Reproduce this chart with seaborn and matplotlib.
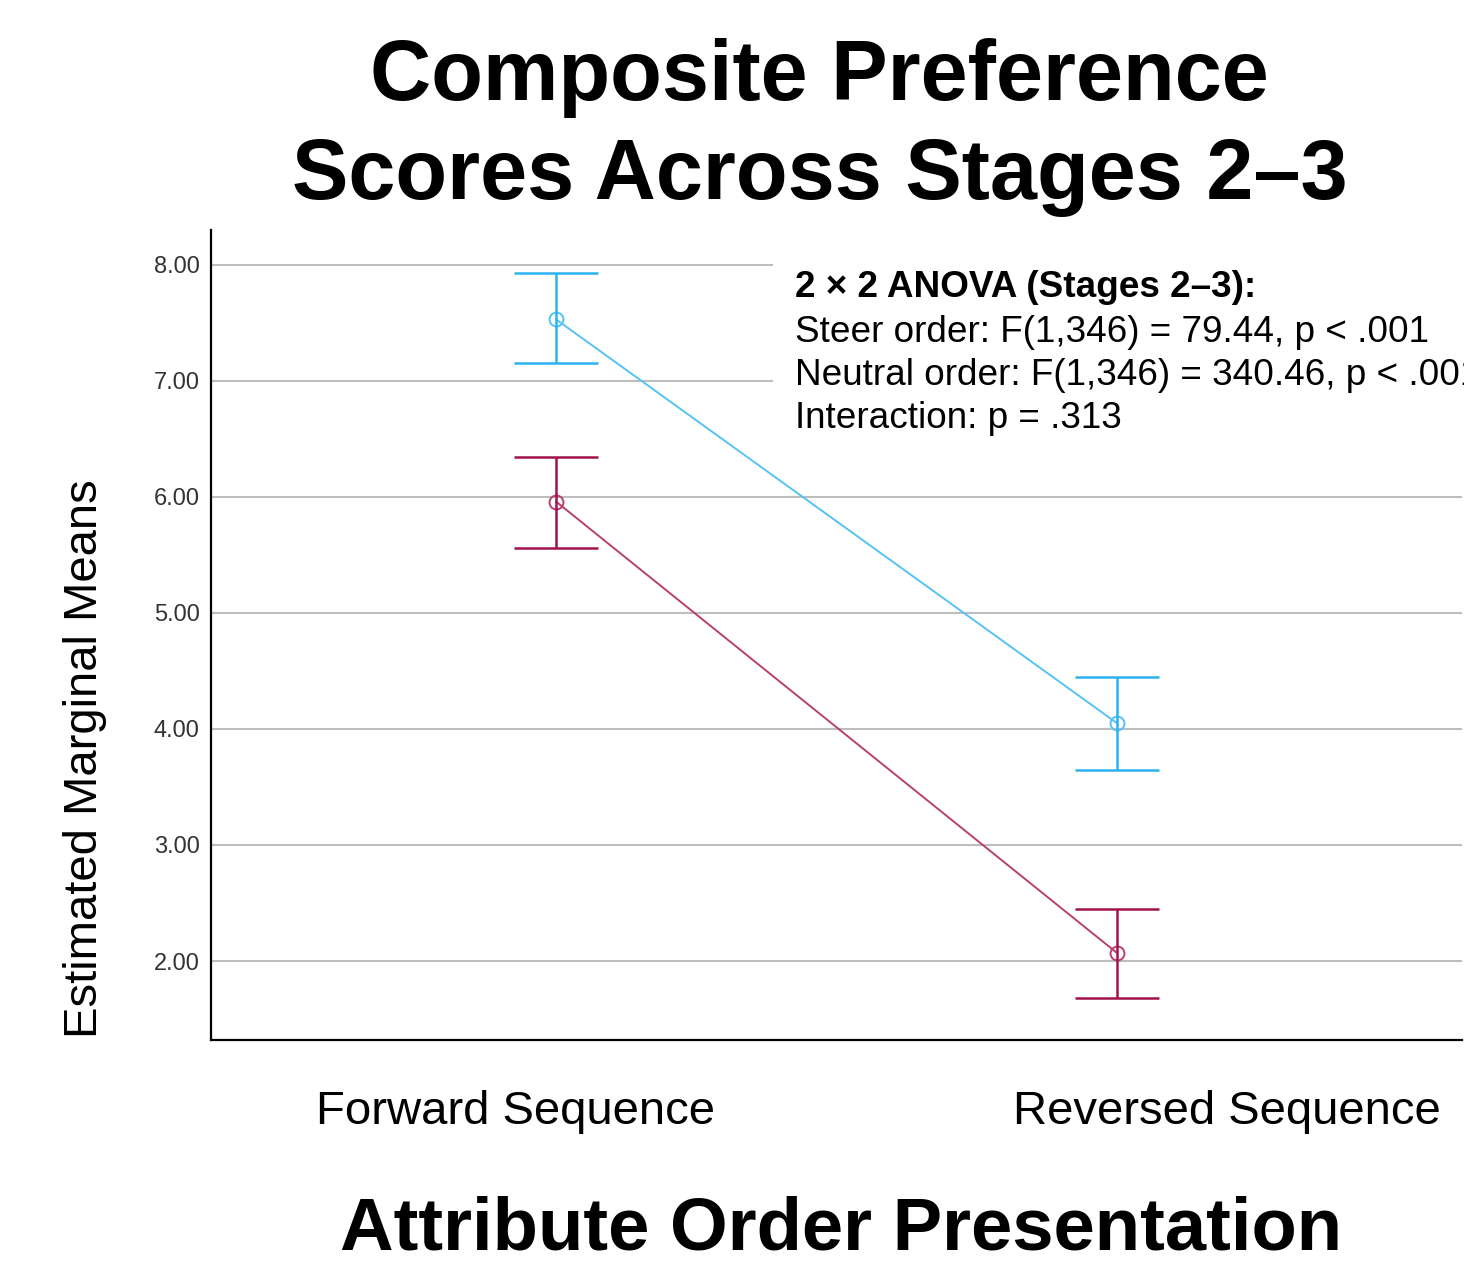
import pandas as pd
import seaborn as sns
import matplotlib.pyplot as plt

# values
order_labels = ["Forward Sequence", "Reversed Sequence"]
groups = ["Steer", "Neutral"]
steer_means = [7.53, 4.05]
steer_lower = [7.15, 3.65]
steer_upper = [7.93, 4.45]
neutral_means = [5.96, 2.07]
neutral_lower = [5.56, 1.68]
neutral_upper = [6.34, 2.45]
y_ticks = [2, 3, 4, 5, 6, 7, 8]

anova_head = "2 \u00d7 2 ANOVA (Stages 2\u20133):"
anova_lines = [
    "Steer order: F(1,346) = 79.44, p < .001",
    "Neutral order: F(1,346) = 340.46, p < .001",
    "Interaction: p = .313",
]

# error bars are saturated, the connecting lines look a touch lighter
bar_colors = {"Steer": "#2bb2f0", "Neutral": "#a3124f"}
line_colors = {"Steer": "#55c3f3", "Neutral": "#b8406f"}

df = pd.DataFrame({
    "order": order_labels * 2,
    "group": [groups[0]] * 2 + [groups[1]] * 2,
    "mean": steer_means + neutral_means,
    "lower": steer_lower + neutral_lower,
    "upper": steer_upper + neutral_upper,
})

sns.set_style("white")
plt.rcParams["font.family"] = ["Liberation Sans", "DejaVu Sans"]
plt.rcParams["text.color"] = "black"

fig = plt.figure(figsize=(14.64, 12.67), dpi=100)
ax = fig.add_axes([0.1441, 0.1792, 0.8545, 0.6393])

sns.pointplot(data=df, x="order", y="mean", hue="group", order=order_labels,
              hue_order=groups, palette=line_colors, errorbar=None, markers="o",
              markersize=10, linewidth=1.4, markerfacecolor="none",
              markeredgewidth=1.4, legend=False, ax=ax, zorder=3)

for g in groups:
    sub = df[df["group"] == g]
    xs = [order_labels.index(o) for o in sub["order"]]
    ax.errorbar(xs, sub["mean"],
                yerr=[sub["mean"] - sub["lower"], sub["upper"] - sub["mean"]],
                fmt="none", ecolor=bar_colors[g], elinewidth=1.8, capsize=30,
                capthick=1.8, zorder=3)

ax.set_xlim(-0.615, 1.615)
ax.set_ylim(1.32, 8.30)
ax.set_yticks(y_ticks)
ax.set_yticklabels([f"{v:.2f}" for v in y_ticks], fontsize=17, color="#333333")
ax.set_xticks([0, 1])
ax.set_xticklabels([])
ax.tick_params(length=0)
ax.tick_params(axis="y", pad=8)
ax.yaxis.grid(True, color="#bdbdbd", linewidth=1.5)
ax.xaxis.grid(False)
ax.set_axisbelow(True)
ax.set_xlabel("")
ax.set_ylabel("")
sns.despine(ax=ax)
for side in ["left", "bottom"]:
    ax.spines[side].set_color("black")
    ax.spines[side].set_linewidth(1.6)

# category labels sit a bit off the points in the original
label_shift = [-0.073, 0.196]
for i, lab in enumerate(order_labels):
    ax.text(i + label_shift[i], -0.0615, lab, transform=ax.get_xaxis_transform(),
            ha="center", va="top", fontsize=34)

# ANOVA note: one white box (blank first line), bold heading drawn on top
box = dict(facecolor="white", edgecolor="none", pad=16)
ax.text(795 / 1464, 1 - 428 / 1267, "\n".join([" "] + anova_lines),
        transform=fig.transFigure, ha="left", va="baseline", fontsize=26.6,
        linespacing=1.3, bbox=box, zorder=1.5)
ax.text(795 / 1464, 1 - 297 / 1267, anova_head, transform=fig.transFigure,
        ha="left", va="baseline", fontsize=26.6, fontweight="bold", zorder=1.6)

fig.text(0.560, 1 - 38 / 1267, "Composite Preference\nScores Across Stages 2\u20133",
         ha="center", va="top", fontsize=61, fontweight="bold", linespacing=1.3)
fig.text(85 / 1464, 1 - 759 / 1267, "Estimated Marginal Means", rotation=90,
         ha="center", va="center", fontsize=34)
fig.text(841 / 1464, 1 - 1250 / 1267, "Attribute Order Presentation",
         ha="center", va="baseline", fontsize=53.5, fontweight="bold")

fig.savefig("out.png", dpi=100)
